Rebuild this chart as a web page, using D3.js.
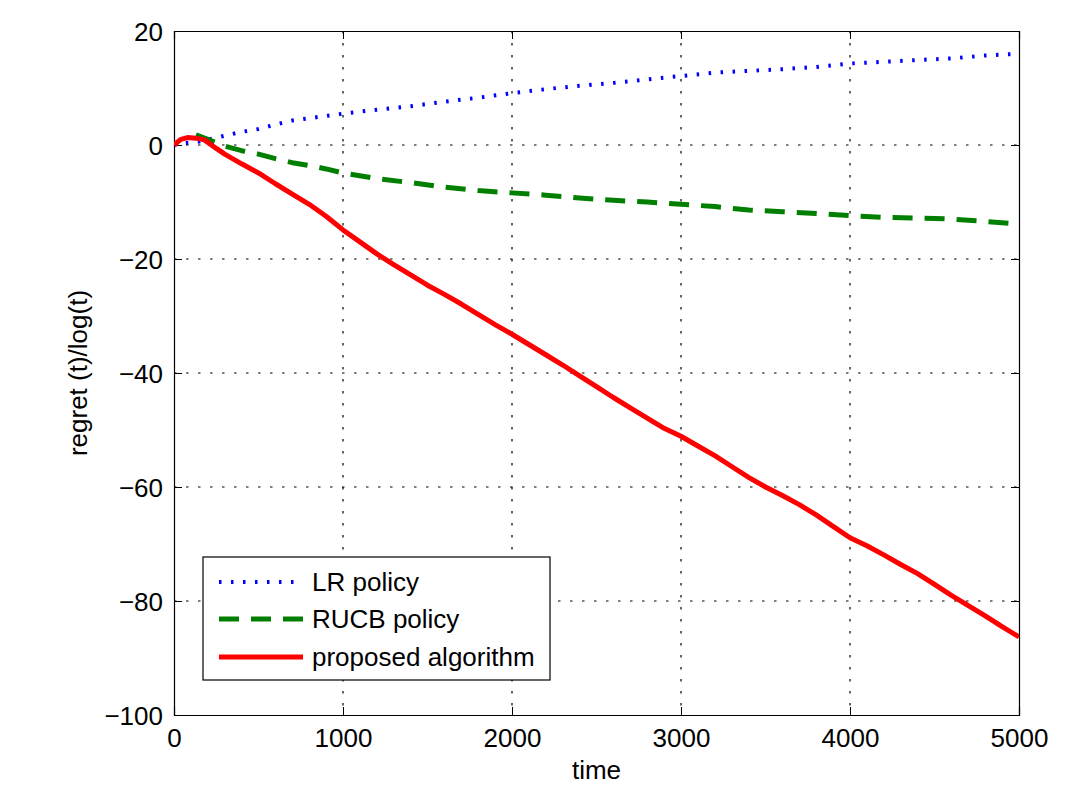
<!DOCTYPE html>
<html><head><meta charset="utf-8">
<script src="https://cdn.jsdelivr.net/npm/d3@7"></script>
<style>body{margin:0;background:#fff;} text{font-family:"Liberation Sans",Arial,sans-serif;}</style>
</head><body>
<svg id="c" width="1068" height="801"></svg>
<script>
const xTicks = [0,1000,2000,3000,4000,5000];
const yTicks = [20,0,-20,-40,-60,-80,-100];
const seriesNames = ["LR policy","RUCB policy","proposed algorithm"];

const lrT = [0,50,150,250,400,500,600,700,800,900,1000,1200,1400,1600,1800,2000,2200,2400,2600,2800,3000,3200,3400,3600,3800,4000,4200,4400,4600,4800,5000];
const lrV = [0,0.3,0.6,1.3,2.3,2.8,3.6,4.3,4.7,5.1,5.5,6.2,6.8,7.6,8.3,9.1,9.8,10.4,10.9,11.5,12.1,12.7,13.0,13.3,13.7,14.3,14.6,14.9,15.2,15.7,16.0];

const rucbT = [130,200,300,400,500,600,700,800,900,1000,1200,1400,1600,1800,2000,2200,2400,2600,2800,3000,3200,3400,3600,3800,4000,4200,4400,4600,4800,5000];
const rucbV = [1.8,1.0,-0.2,-1.0,-1.6,-2.4,-3.1,-3.6,-4.2,-4.9,-5.9,-6.6,-7.4,-8.0,-8.4,-8.8,-9.3,-9.7,-10.0,-10.4,-10.8,-11.4,-11.7,-12.0,-12.4,-12.7,-12.8,-13.0,-13.4,-13.9];

const propT = [0,40,80,130,180,250,300,400,500,600,700,800,900,1000,1100,1200,1300,1400,1500,1600,1700,1800,1900,2000,2100,2200,2300,2400,2500,2600,2700,2800,2900,3000,3100,3200,3300,3400,3500,3600,3700,3800,3900,4000,4100,4200,4300,4400,4500,4600,4700,4800,4900,5000];
const propV = [0,1.0,1.3,1.2,0.9,-0.6,-1.6,-3.3,-4.9,-6.8,-8.6,-10.4,-12.5,-14.9,-17.0,-19.1,-21.0,-22.8,-24.6,-26.2,-27.9,-29.7,-31.5,-33.2,-35.0,-36.8,-38.6,-40.5,-42.4,-44.3,-46.1,-47.9,-49.7,-51.1,-52.8,-54.5,-56.4,-58.3,-60.0,-61.5,-63.1,-64.9,-66.9,-68.9,-70.3,-71.9,-73.6,-75.2,-77.1,-79.0,-80.8,-82.6,-84.5,-86.3];

const L=174, R=1019, T=31, B=715;
const svg = d3.select("#c");
const x = d3.scaleLinear().domain([0,5000]).range([L,R]);
const y = d3.scaleLinear().domain([-100,20]).range([B,T]);
const fs = 26;

// grid
const g = svg.append("g");
g.selectAll(".gx").data(xTicks.slice(1,-1)).enter().append("line")
  .attr("x1",d=>x(d)).attr("x2",d=>x(d)).attr("y1",T).attr("y2",B)
  .attr("stroke","#000").attr("stroke-width",1.2).attr("stroke-dasharray","2.5,9.5");
g.selectAll(".gy").data(yTicks.slice(1,-1)).enter().append("line")
  .attr("y1",d=>y(d)).attr("y2",d=>y(d)).attr("x1",L).attr("x2",R)
  .attr("stroke","#000").attr("stroke-width",1.2).attr("stroke-dasharray","2.5,9.5");

// axes (ticks inward)
const xa = svg.append("g").attr("transform",`translate(0,${B})`)
  .call(d3.axisBottom(x).tickValues(xTicks).tickSize(-8).tickPadding(14).tickFormat(d3.format("d")));
const xt = svg.append("g").attr("transform",`translate(0,${T})`)
  .call(d3.axisTop(x).tickValues(xTicks).tickSize(-8).tickFormat(""));
const ya = svg.append("g").attr("transform",`translate(${L},0)`)
  .call(d3.axisLeft(y).tickValues(yTicks).tickSize(-8).tickPadding(11).tickFormat(d=>d<0?"\u2212"+(-d):d));
const yr = svg.append("g").attr("transform",`translate(${R},0)`)
  .call(d3.axisRight(y).tickValues(yTicks).tickSize(-8).tickFormat(""));
[xa,xt,ya,yr].forEach(a=>{
  a.selectAll("path").attr("stroke","#000").attr("stroke-width",1.2);
  a.selectAll("line").attr("stroke","#000");
  a.selectAll("text").attr("font-size",fs).attr("fill","#000").attr("font-family","'Liberation Sans',Arial,sans-serif");
});
ya.selectAll("text").attr("dy","0.36em");

// lines
const line = d3.line().x(d=>x(d[0])).y(d=>y(d[1]));
svg.append("clipPath").attr("id","pc").append("rect").attr("x",L).attr("y",T).attr("width",R-L).attr("height",B-T);
const styles = [
  {c:"#0000ff", w:4, da:"2.5,9.5"},
  {c:"#007f00", w:5, da:"20,12"},
  {c:"#ff0000", w:5, da:null}
];
const data = [d3.zip(lrT,lrV), d3.zip(rucbT,rucbV), d3.zip(propT,propV)];
const lg = svg.append("g").attr("clip-path","url(#pc)");
data.forEach((d,i)=>{
  const p = lg.append("path").datum(d).attr("d",line).attr("fill","none")
    .attr("stroke",styles[i].c).attr("stroke-width",styles[i].w).attr("stroke-linejoin","round");
  if(styles[i].da) p.attr("stroke-dasharray",styles[i].da);
});

// labels
svg.append("text").attr("x",(L+R)/2).attr("y",779).attr("text-anchor","middle").attr("font-size",fs).text("time");
svg.append("text").attr("transform",`translate(87,${(T+B)/2}) rotate(-90)`).attr("text-anchor","middle").attr("font-size",fs).text("regret (t)/log(t)");

// legend
const leg = svg.append("g");
leg.append("rect").attr("x",203).attr("y",557).attr("width",347).attr("height",123).attr("fill","#fff").attr("stroke","#000").attr("stroke-width",1.2);
const rowsY = [582,619,657];
seriesNames.forEach((n,i)=>{
  const l = leg.append("line").attr("x1",219).attr("x2",303).attr("y1",rowsY[i]).attr("y2",rowsY[i])
    .attr("stroke",styles[i].c).attr("stroke-width",styles[i].w);
  if(styles[i].da) l.attr("stroke-dasharray",styles[i].da);
  leg.append("text").attr("x",312).attr("y",rowsY[i]).attr("dy","0.36em").attr("font-size",fs).text(n);
});
</script>
</body></html>
